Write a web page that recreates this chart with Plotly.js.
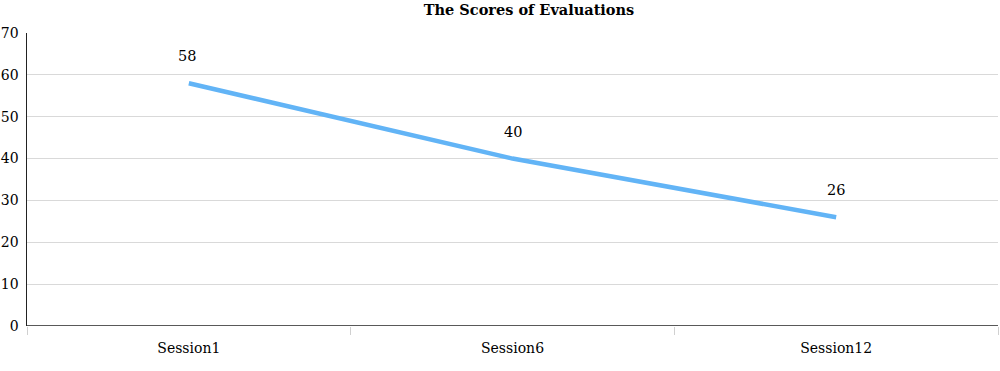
<!DOCTYPE html>
<html><head><meta charset="utf-8">
<script src="https://cdn.plot.ly/plotly-3.0.1.min.js"></script>
<style>body{margin:0;background:#fff}#c{width:1000px;height:371px}</style>
</head><body><div id="c"></div>
<script>
const categories = ["Session1", "Session6", "Session12"];
const scores = [58, 40, 26];
const yTicks = [0, 10, 20, 30, 40, 50, 60, 70];

const font = "DejaVu Serif, Liberation Serif, serif";
const trace = {
  x: categories, y: scores, type: "scatter", mode: "lines",
  line: {color: "#62B4F6", width: 4.5}, hoverinfo: "skip"
};
const annotations = categories.map((c, i) => ({
  x: c, y: scores[i], xref: "x", yref: "y", text: String(scores[i]),
  showarrow: false, yshift: 27, xshift: i === 0 ? -2 : 0,
  font: {family: font, size: 14.5, color: "#000"}
}));
const layout = {
  width: 1000, height: 371,
  margin: {l: 27, r: 2, t: 33, b: 45},
  paper_bgcolor: "#fff", plot_bgcolor: "#fff",
  showlegend: false,
  title: {text: "<b>The Scores of Evaluations</b>", x: 0.529, xanchor: "center", y: 0.972, yanchor: "middle",
    font: {family: font, size: 14.5, color: "#000"}},
  xaxis: {
    type: "category", range: [-0.5, 2.5], showgrid: false, zeroline: false,
    showline: false, ticks: "outside", tickson: "boundaries", ticklen: 8, tickcolor: "#d0d0d0", tickwidth: 1,
    tickfont: {family: font, size: 14, color: "#000"}, ticklabelstandoff: 12
  },
  yaxis: {
    range: [0, 70], tickvals: yTicks, ticktext: yTicks.map(String),
    showgrid: true, gridcolor: "#d9d9d9", gridwidth: 1, zeroline: false,
    showline: true, linecolor: "#222", linewidth: 1.5, ticks: "",
    tickfont: {family: font, size: 14, color: "#000"}, ticklabelstandoff: 4
  },
  shapes: [{type: "line", xref: "paper", yref: "y", x0: 0, x1: 1, y0: 0, y1: 0, line: {color: "#222", width: 1.5}}],
  annotations: annotations
};
Plotly.newPlot("c", [trace], layout, {staticPlot: true, displayModeBar: false});
</script></body></html>
